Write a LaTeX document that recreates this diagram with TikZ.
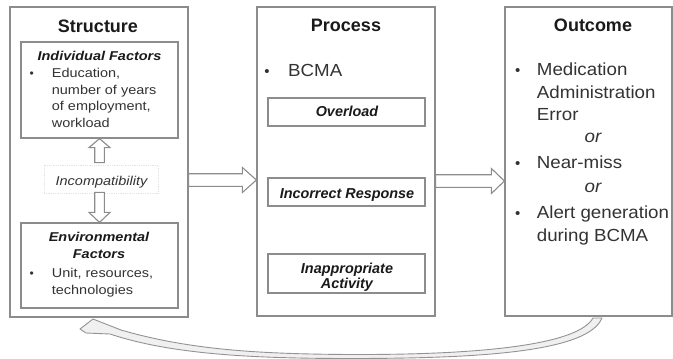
\documentclass[tikz,border=0pt]{standalone}
\usepackage{fontspec}
\setmainfont{Liberation Sans}
\usetikzlibrary{calc}
\definecolor{boxline}{HTML}{8C8C8C}
\definecolor{txt}{HTML}{333333}
\definecolor{ttl}{HTML}{1A1A1A}
\newcommand{\sx}[1]{\scalebox{1.13}[1]{#1}}
\newcommand{\sy}[1]{\scalebox{1.07}[1]{#1}}
% hollow block arrows: from, to (tip), head offset
\newcommand{\hollowH}[3]{\draw[hollow] ($(#1)+(0,-6.3)$) -- ($(#2)+(#3,-6.3)$) -- ($(#2)+(#3,-12.5)$) -- (#2) -- ($(#2)+(#3,12.5)$) -- ($(#2)+(#3,6.3)$) -- ($(#1)+(0,6.3)$) -- cycle;}
\newcommand{\hollowV}[3]{\draw[hollow] ($(#1)+(-4.8,0)$) -- ($(#2)+(-4.8,#3)$) -- ($(#2)+(-10.5,#3)$) -- (#2) -- ($(#2)+(10.5,#3)$) -- ($(#2)+(4.8,#3)$) -- ($(#1)+(4.8,0)$) -- cycle;}
\begin{document}
\begin{tikzpicture}[x=1pt,y=-1pt,
  box/.style={draw=boxline, line width=1.2pt, fill=white, inner sep=0pt},
  hollow/.style={draw=boxline, line width=1.1pt, fill=white, line join=miter},
  ttlstyle/.style={inner sep=0pt, anchor=base, text=ttl, font=\fontsize{18}{20}\selectfont\bfseries},
  smalltitle/.style={inner sep=0pt, anchor=base, text=ttl, font=\fontsize{12.8}{15}\selectfont\bfseries\itshape},
  smallbody/.style={inner sep=0pt, anchor=base west, text=txt, font=\fontsize{12.8}{15}\selectfont},
  smallbullet/.style={inner sep=0pt, anchor=base, text=txt, font=\fontsize{12}{13}\selectfont},
  proclabel/.style={inner sep=0pt, anchor=base, text=ttl, font=\fontsize{14.4}{16}\selectfont\bfseries\itshape},
  bigbody/.style={inner sep=0pt, anchor=base west, text=txt, font=\fontsize{17.5}{20}\selectfont},
  bigbullet/.style={inner sep=0pt, anchor=base, text=txt, font=\fontsize{15}{16}\selectfont},
  ortext/.style={inner sep=0pt, anchor=base, text=txt, font=\fontsize{17.5}{20}\selectfont\itshape},
  fb/.style={draw=gray!85, fill=gray!12, line width=0.9pt, line join=round}
]
\useasboundingbox (0,0) rectangle (673,359);

% ---------- Structure ----------
\node[box, minimum width=178, minimum height=310] (struct) at (99,162) {};
\node[ttlstyle] (tS) at (98,32) {Structure};
\node[box, minimum width=157, minimum height=96] (indiv) at (99.5,90) {};
\node[smalltitle] (indT) at (99.5,60.7) {\sx{Individual Factors}};
\node[smallbullet] (indB) at (31.7,77.3) {•};
\node[smallbody] (ind1) at (51.7,77.3) {\sx{Education,}};
\node[smallbody] (ind2) at (51.7,94) {\sx{number of years}};
\node[smallbody] (ind3) at (51.7,110.7) {\sx{of employment,}};
\node[smallbody] (ind4) at (51.7,127.6) {\sx{workload}};

\node[box, minimum width=157, minimum height=85] (env) at (99.5,265.5) {};
\node[smalltitle] (envT1) at (99,241.7) {\sx{Environmental}};
\node[smalltitle] (envT2) at (99,258.3) {\sx{Factors}};
\node[smallbullet] (envB) at (31.7,277.3) {•};
\node[smallbody] (env1) at (51.7,277.3) {\sx{Unit, resources,}};
\node[smallbody] (env2) at (51.7,294) {\sx{technologies}};

\node[draw=gray!22, densely dotted, line width=0.8pt, minimum width=114, minimum height=28, inner sep=0pt] (incompat) at (101,179) {};
\node[inner sep=0pt, anchor=base, text=txt, font=\fontsize{12.8}{15}\selectfont\itshape] (incT) at (101.5,185) {\sx{Incompatibility}};

\coordinate (upbase) at ($(incompat.north -| indiv.south)+(0,-2)$);
\hollowV{upbase}{indiv.south}{9}
\coordinate (dnbase) at ($(incompat.south -| env.north)+(0,-1)$);
\hollowV{dnbase}{env.north}{-10}

% ---------- Process ----------
\node[box, minimum width=178, minimum height=309] (proc) at (346,161.5) {};
\node[ttlstyle] (tP) at (346,31.7) {Process};
\node[bigbullet] (pB) at (267,76) {•};
\node[bigbody] (p1) at (288,76) {\sy{BCMA}};
\node[box, minimum width=157, minimum height=28] (over) at (346.5,112) {};
\node[proclabel] (overT) at (347,116.5) {Overload};
\node[box, minimum width=157, minimum height=28] (incr) at (346.5,192) {};
\node[proclabel] (incrT) at (347,198) {Incorrect Response};
\node[box, minimum width=157, minimum height=39] (inap) at (346.5,273.5) {};
\node[proclabel] (inapT1) at (347,273.3) {Inappropriate};
\node[proclabel] (inapT2) at (347,288.8) {Activity};

% ---------- Outcome ----------
\node[box, minimum width=167, minimum height=309] (outc) at (588.5,161.5) {};
\node[ttlstyle] (tO) at (593,31.7) {Outcome};
\node[bigbullet] (oB1) at (517.7,75.7) {•};
\node[bigbody] (o1) at (536.7,75.7) {\sy{Medication}};
\node[bigbody] (o2) at (536.7,98.3) {\sy{Administration}};
\node[bigbody] (o3) at (536.7,120.7) {\sy{Error}};
\node[ortext] (or1) at (593,142.3) {\sy{or}};
\node[bigbullet] (oB2) at (517.7,168.3) {•};
\node[bigbody] (o4) at (536.7,168.3) {\sy{Near-miss}};
\node[ortext] (or2) at (593,192.3) {\sy{or}};
\node[bigbullet] (oB3) at (517.7,218.3) {•};
\node[bigbody] (o5) at (536.7,218.3) {\sy{Alert generation}};
\node[bigbody] (o6) at (536.7,241.7) {\sy{during BCMA}};

% ---------- horizontal hollow arrows ----------
\coordinate (a1s) at (struct.east |- 0,180);
\coordinate (a1e) at (proc.west |- 0,180);
\hollowH{a1s}{a1e}{-14}
\coordinate (a2s) at (proc.east |- 0,181);
\coordinate (a2e) at (outc.west |- 0,181);
\hollowH{a2s}{a2e}{-13}

% ---------- feedback curved arrow ----------
\coordinate (fbtip) at (80,329);
\coordinate (fbstart) at (outc.south -| 597.5,0);
\draw[fb] (fbtip) -- (93,319) -- (121,330)
  .. controls (190,350) and (260,354) .. (350,354.5)
  .. controls (480,355) and (578,345) .. (593,318)
  -- (602,318)
  .. controls (588,352) and (480,358.5) .. (350,358.5)
  .. controls (250,358.5) and (170,354) .. (110,334)
  -- (86,333) -- cycle;
\end{tikzpicture}
\end{document}
